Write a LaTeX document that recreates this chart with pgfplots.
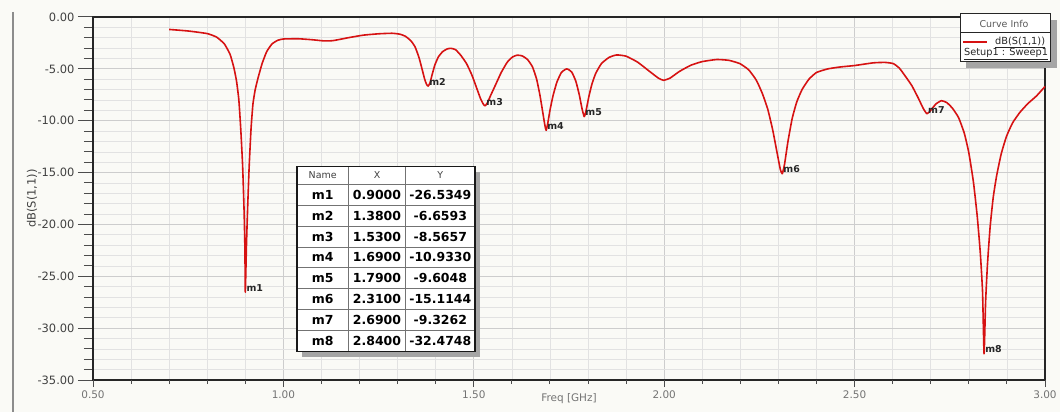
\documentclass[border=0pt]{standalone}
\usepackage{fontspec}
\setmainfont{DejaVu Sans}
\usepackage{pgfplots}
\usepackage{pgfplotstable}
\pgfplotsset{compat=1.18}

\definecolor{curve}{RGB}{214,18,18}
\definecolor{bg}{RGB}{250,250,246}
\definecolor{gridmaj}{RGB}{205,205,205}
\definecolor{gridmin}{RGB}{226,226,226}
\definecolor{shadow}{RGB}{165,165,165}

% Return loss dB(S(1,1)) versus frequency in GHz
\pgfplotstableread{
x      y
0.700  -1.20
0.750  -1.35
0.800  -1.60
0.825  -1.95
0.845  -2.60
0.860  -3.60
0.870  -4.90
0.877  -6.20
0.883  -8.00
0.888  -10.80
0.893  -14.40
0.897  -19.00
0.899  -22.50
0.900  -26.5349
0.903  -22.00
0.906  -18.50
0.910  -14.50
0.915  -10.80
0.920  -8.40
0.926  -7.00
0.934  -5.80
0.944  -4.50
0.956  -3.35
0.970  -2.60
0.985  -2.25
1.000  -2.12
1.040  -2.10
1.078  -2.20
1.105  -2.30
1.130  -2.28
1.170  -2.00
1.210  -1.75
1.250  -1.62
1.285  -1.57
1.305  -1.65
1.320  -1.85
1.335  -2.30
1.346  -2.90
1.356  -3.90
1.364  -5.00
1.371  -6.00
1.376  -6.50
1.380  -6.6593
1.385  -6.35
1.391  -5.50
1.398  -4.60
1.407  -3.85
1.418  -3.35
1.430  -3.08
1.440  -3.02
1.452  -3.15
1.466  -3.70
1.481  -4.50
1.495  -5.60
1.508  -6.90
1.518  -7.90
1.525  -8.40
1.530  -8.5657
1.536  -8.25
1.545  -7.50
1.557  -6.55
1.572  -5.35
1.588  -4.35
1.602  -3.85
1.614  -3.68
1.627  -3.75
1.641  -4.10
1.654  -4.80
1.665  -6.00
1.674  -7.60
1.682  -9.40
1.687  -10.50
1.690  -10.9330
1.694  -10.30
1.700  -9.00
1.708  -7.60
1.718  -6.30
1.730  -5.35
1.744  -5.00
1.757  -5.30
1.768  -6.20
1.777  -7.50
1.784  -8.80
1.790  -9.6048
1.795  -9.00
1.802  -7.70
1.810  -6.50
1.820  -5.45
1.835  -4.50
1.855  -3.90
1.875  -3.66
1.900  -3.78
1.930  -4.35
1.960  -5.20
1.985  -5.90
1.998  -6.10
2.015  -5.90
2.040  -5.25
2.070  -4.65
2.100  -4.30
2.138  -4.10
2.170  -4.18
2.199  -4.50
2.222  -5.10
2.242  -6.10
2.258  -7.40
2.272  -8.90
2.285  -10.90
2.297  -13.20
2.305  -14.70
2.310  -15.1144
2.316  -14.20
2.325  -12.00
2.336  -9.80
2.348  -8.20
2.362  -7.00
2.380  -6.00
2.400  -5.35
2.430  -5.00
2.462  -4.82
2.500  -4.68
2.549  -4.42
2.580  -4.38
2.602  -4.50
2.618  -4.95
2.633  -5.70
2.650  -6.60
2.667  -7.80
2.680  -8.80
2.690  -9.3262
2.700  -9.00
2.713  -8.40
2.728  -8.07
2.742  -8.25
2.757  -8.80
2.773  -9.70
2.788  -11.20
2.800  -13.10
2.812  -15.90
2.822  -19.20
2.830  -22.70
2.836  -26.50
2.840  -32.4748
2.844  -27.50
2.849  -23.80
2.856  -20.20
2.864  -17.40
2.873  -15.30
2.885  -13.20
2.899  -11.50
2.915  -10.20
2.934  -9.20
2.955  -8.35
2.978  -7.60
3.000  -6.70
}\sparam

% Markers placed on the trace
\pgfplotstableread{
name x     y
m1   0.90  -26.5349
m2   1.38  -6.6593
m3   1.53  -8.5657
m4   1.69  -10.9330
m5   1.79  -9.6048
m6   2.31  -15.1144
m7   2.69  -9.3262
m8   2.84  -32.4748
}\markers

\pgfplotsset{
  common/.style={
    at={(0,0)}, anchor=south west, scale only axis,
    width=952bp, height=363bp,
    xmin=0.5, xmax=3, ymin=-35, ymax=0, clip=false,
  },
}

\begin{document}
\begin{tikzpicture}
  \fill[bg] (-93bp,-32bp) rectangle (967bp,380bp);
  \draw[black!45, line width=1.5bp] (-80bp,368bp) -- (-80bp,-32bp);

  % grid layer
  \begin{axis}[common,
    grid=both,
    xtick={0.5,1,...,3}, ytick={-35,-30,...,0},
    minor x tick num=4, minor y tick num=4,
    major grid style={gridmaj, line width=0.8bp},
    minor grid style={gridmin, line width=0.6bp},
    major tick length=0pt, minor tick length=0pt,
    xticklabels={}, yticklabels={},
    axis line style={draw=none},
  ]
  \end{axis}

  % y axis and trace
  \begin{axis}[common,
    xtick=\empty,
    ytick={-35,-30,...,0}, minor y tick num=4,
    ytick pos=left, tick align=outside,
    major tick length=15bp, minor tick length=9bp,
    tick style={black!70, line width=1bp},
    axis line style={black!85, line width=1.2bp},
    /pgf/number format/assume math mode=true,
    yticklabel style={font=\fontsize{11.5}{13}\selectfont, text=black!75,
      /pgf/number format/.cd, fixed, fixed zerofill, precision=2},
    ylabel={dB(S(1,1))},
    ylabel style={at={(axis description cs:-0.064,0.5)}, anchor=center,
      font=\fontsize{11.5}{13}\selectfont, text=black!75},
  ]
    \addplot[curve, line width=1.6bp, line join=round, smooth, tension=0.3]
      table[x=x, y=y] {\sparam};
    \addplot[only marks, mark=*, mark size=0pt, mark options={draw=none, fill=none},
      nodes near coords, point meta=explicit symbolic,
      nodes near coords style={anchor=south west, inner sep=0.5bp, xshift=0.5bp,
        font=\fontsize{9.5}{11}\selectfont\bfseries, text=black!85}]
      table[x=x, y=y, meta=name] {\markers};
  \end{axis}

  % x axis
  \begin{axis}[common,
    ytick=\empty,
    xtick={0.5,1,...,3}, minor x tick num=4,
    xtick pos=bottom, tick align=outside,
    major tick length=7bp, minor tick length=4bp,
    tick style={black!70, line width=1bp},
    axis line style={draw=none},
    /pgf/number format/assume math mode=true,
    xticklabel style={font=\fontsize{10.5}{12}\selectfont, text=black!55,
      /pgf/number format/.cd, fixed, fixed zerofill, precision=2},
    xlabel={Freq [GHz]},
    xlabel style={at={(axis description cs:0.5,-0.05)}, anchor=center,
      font=\fontsize{10.5}{12}\selectfont, text=black!55},
  ]
  \end{axis}

  % marker table
  \fill[shadow] (209bp,23bp) rectangle (387bp,208bp);
  \fill[white] (204bp,28.5bp) rectangle (382bp,213.3bp);
  \foreach \i in {0,...,7} {
    \draw[black!55, line width=0.8bp] (204bp,{195.7bp-\i*20.9bp}) -- (382bp,{195.7bp-\i*20.9bp});
  }
  \draw[black!55, line width=0.8bp] (255.3bp,28.5bp) -- (255.3bp,213.3bp);
  \draw[black!55, line width=0.8bp] (312.7bp,28.5bp) -- (312.7bp,213.3bp);
  \draw[black!90, line width=1.2bp] (204bp,28.5bp) rectangle (382bp,213.3bp);
  \begin{scope}[every node/.style={anchor=center, inner sep=0pt}]
    \node[font=\fontsize{9.5}{11}\selectfont, text=black!75] at (229.7bp,204.5bp) {Name};
    \node[font=\fontsize{9.5}{11}\selectfont, text=black!75] at (284bp,204.5bp) {X};
    \node[font=\fontsize{9.5}{11}\selectfont, text=black!75] at (347.3bp,204.5bp) {Y};
    \foreach \n/\xv/\yv [count=\i] in {m1/0.9000/-26.5349, m2/1.3800/-6.6593,
        m3/1.5300/-8.5657, m4/1.6900/-10.9330, m5/1.7900/-9.6048,
        m6/2.3100/-15.1144, m7/2.6900/-9.3262, m8/2.8400/-32.4748} {
      \node[font=\fontsize{12.5}{14}\selectfont\bfseries] at (229.7bp,{195.7bp-(\i-0.5)*20.9bp}) {\n};
      \node[font=\fontsize{12.5}{14}\selectfont\bfseries] at (284bp,{195.7bp-(\i-0.5)*20.9bp}) {\xv};
      \node[font=\fontsize{12.5}{14}\selectfont\bfseries] at (347.3bp,{195.7bp-(\i-0.5)*20.9bp}) {\yv};
    }
  \end{scope}

  % curve info box
  \fill[shadow] (873bp,312bp) rectangle (964bp,360bp);
  \fill[white] (867bp,318bp) rectangle (957bp,366bp);
  \draw[black!85, line width=1bp] (867bp,318bp) rectangle (957bp,366bp);
  \draw[black!85, line width=0.8bp] (867bp,347.5bp) -- (957bp,347.5bp);
  \node[font=\fontsize{9.5}{11}\selectfont, text=black!65, inner sep=0pt] at (911bp,356bp) {Curve Info};
  \draw[curve, line width=1.6bp] (870bp,338bp) -- (894bp,338bp);
  \node[font=\fontsize{9.8}{11}\selectfont, text=black!85, anchor=west, inner sep=0pt] at (902bp,338bp) {\underline{dB(S(1,1))}};
  \node[font=\fontsize{9.8}{11}\selectfont, text=black!85, anchor=west, inner sep=0pt] at (871bp,326bp) {\underline{Setup1 : Sweep1}};

  \path[use as bounding box] (-93bp,-32bp) rectangle (967bp,380bp);
\end{tikzpicture}
\end{document}
